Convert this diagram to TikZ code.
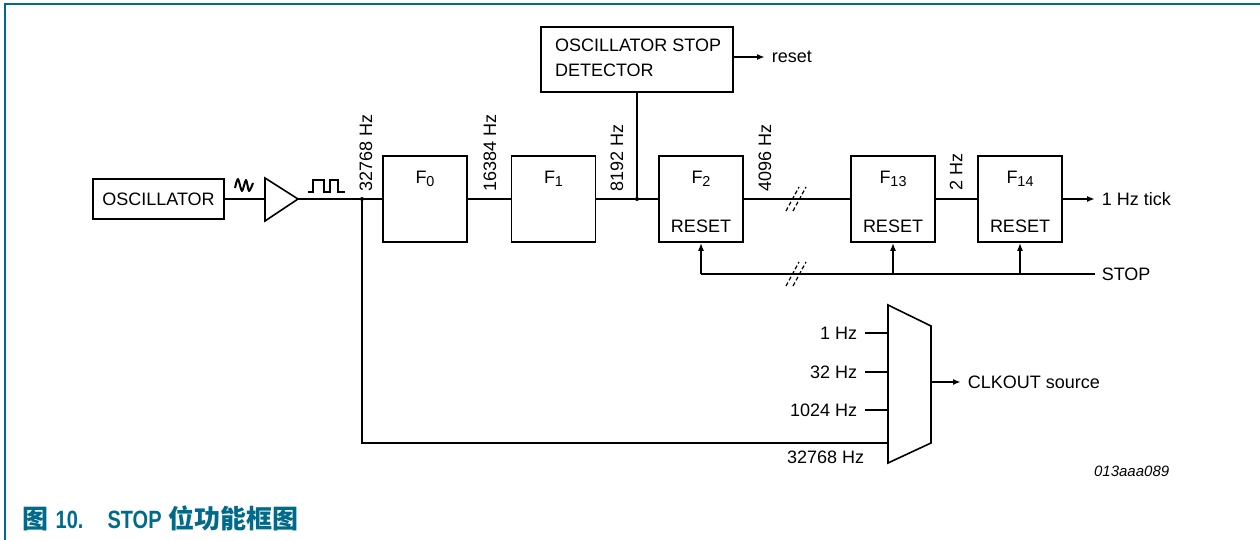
\documentclass[tikz,border=0pt]{standalone}
\usepackage{fontspec}
\setmainfont{Liberation Sans}
\newfontfamily\cjk{Noto Sans CJK SC}
\newfontfamily\capfont{Liberation Sans Bold}[FakeStretch=0.8]
\usetikzlibrary{arrows.meta}
\definecolor{capblue}{RGB}{0,106,138}
\newcommand\divsub[1]{\raisebox{-1.6pt}{\fontsize{7.2}{8}\selectfont #1}}
\newcommand\capcjk[1]{{\cjk\bfseries\fontsize{13}{14}\selectfont #1}}

\tikzset{
	wire/.style={line width=0.8pt},
	block/.style={draw, line width=0.8pt, minimum width=42pt, minimum height=43pt, inner sep=0pt},
	lbl/.style={font=\fontsize{9}{12.5}\selectfont, inner sep=0pt},
	freq/.style={lbl, rotate=90, anchor=west},
	tip/.style={-{Latex[length=4pt,width=3pt]}},
	brk/.style={line width=0.6pt, dash pattern=on 2pt off 1.2pt},
}

\begin{document}
\begin{tikzpicture}[x=0.5pt, y=-0.5pt, wire]
	\useasboundingbox (0,0) rectangle (1260,540);
	\draw[capblue, line width=1pt] (5,540) -- (5,4) -- (1260,4);

	% oscillator and buffer
	\node[draw, lbl, minimum width=65.5pt, minimum height=20pt] (osc) at (158.5,199) {OSCILLATOR};
	\draw (265,178) -- (298,199) -- (265,221) -- cycle;
	\coordinate (bufin) at (265,199);
	\coordinate (bufout) at (298,199);
	\draw[line width=1pt, line join=round] plot[smooth, tension=0.5] coordinates {(235,188) (238,179) (242,191) (246,180) (249,191) (253,183)};
	\draw[line width=0.7pt] (308,192) -- (313,192) -- (313,180) -- (324,180) -- (324,192) -- (330,192)
		-- (330,180) -- (338,180) -- (338,192) -- (345,192);

	% divider chain
	\node[block] (f0) at (425,199) {};
	\node[block] (f1) at (553.5,199) {};
	\node[block] (f2) at (701,199) {};
	\node[block] (f13) at (893,199) {};
	\node[block] (f14) at (1020,199) {};
	\foreach \b/\n in {f0/0, f1/1, f2/2, f13/13, f14/14} {
		\node[lbl] (\b-name) at ([yshift=-12pt]\b.north) {F\divsub{\n}};
	}
	\foreach \b in {f2, f13, f14} {
		\node[lbl] (\b-rst) at ([yshift=8pt]\b.south) {RESET};
	}

	\node[freq] (hz0) at (366,192) {32768 Hz};
	\node[freq] (hz1) at (490,192) {16384 Hz};
	\node[freq] (hz2) at (617,192) {8192 Hz};
	\node[freq] (hz3) at (765,192) {4096 Hz};
	\node[freq] (hz4) at (956,191) {2 Hz};

	% stop detector
	\node[draw, minimum width=96pt, minimum height=32.5pt] (det) at (637,59.5) {};
	\node[lbl, anchor=west, align=left] (dettxt) at ([xshift=7pt, yshift=1pt]det.west) {OSCILLATOR STOP\\DETECTOR};
	\node[lbl, anchor=west] (rst) at (771,57) {reset};
	\draw[tip] (det.east |- rst) -- ([xshift=-3pt]rst.west);

	\coordinate (j0) at (362,199);
	\coordinate (j1) at (637,199);
	\draw (osc.east) -- (bufin);
	\draw (bufout) -- (f0.west);
	\draw (f0.east) -- (f1.west);
	\draw (f1.east) -- (f2.west);
	\draw (f2.east) -- (f13.west);
	\draw (f13.east) -- (f14.west);
	\draw (j1) -- (j1 |- det.south);
	\fill (j0) circle[radius=2];
	\fill (j1) circle[radius=2];

	\node[lbl, anchor=west] (tick) at (1101,199) {1 Hz tick};
	\draw[tip] (f14.east) -- ([xshift=-3pt]tick.west);

	% stop line
	\node[lbl, anchor=west] (stop) at (1101,274) {STOP};
	\draw (f2.south |- stop) -- ([xshift=-3pt]stop.west);
	\foreach \b in {f2, f13, f14} {
		\draw[tip] (\b.south |- stop) -- (\b.south);
	}
	\foreach \y in {199, 274} {
		\draw[brk] (786,\y+12) -- (799,\y-12);
		\draw[brk] (793,\y+12) -- (806,\y-12);
	}

	% clkout multiplexer
	\draw (888,305) -- (931,326) -- (931,443) -- (888,463) -- cycle;
	\coordinate (m1) at (888,333);
	\coordinate (m2) at (888,372);
	\coordinate (m3) at (888,410);
	\coordinate (m4) at (888,443);
	\coordinate (mout) at (931,382);
	\node[lbl, anchor=east] (in1) at (858,333) {1 Hz};
	\node[lbl, anchor=east] (in2) at (858,372) {32 Hz};
	\node[lbl, anchor=east] (in3) at (858,410) {1024 Hz};
	\node[lbl, anchor=east] (in4) at (865,457) {32768 Hz};
	\foreach \m in {m1, m2, m3} {
		\draw ([xshift=-11.5pt]\m) -- (\m);
	}
	\draw (j0) |- (m4);
	\node[lbl, anchor=west] (clk) at (967,382) {CLKOUT source};
	\draw[tip] (mout) -- ([xshift=-3pt]clk.west);

	\node[lbl, font=\fontsize{7.5}{9}\selectfont\itshape, anchor=east] (code) at (1170,471) {013aaa089};

	% caption
	\node[anchor=base west, inner sep=0pt, text=capblue, font=\fontsize{12.5}{14}\selectfont] (cap) at (22,528)
		{\capcjk{图} {\capfont 10.}\hspace{12pt}{\capfont STOP} \capcjk{位功能框图}};
\end{tikzpicture}
\end{document}
